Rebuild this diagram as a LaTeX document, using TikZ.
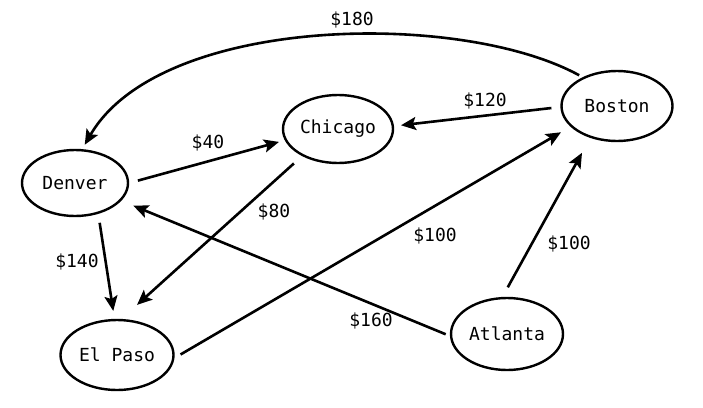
\documentclass[tikz,border=0pt]{standalone}
\usepackage{fontspec}
\setmonofont{DejaVu Sans Mono}
\usetikzlibrary{shapes.geometric,arrows.meta}
\begin{document}
\begin{tikzpicture}[x=1pt,y=-1pt,
  city/.style={ellipse,draw,line width=2.4pt,inner sep=0pt,font=\fontsize{18}{20}\selectfont\ttfamily},
  lbl/.style={inner sep=0pt,font=\fontsize{18}{20}\selectfont\ttfamily},
  edge/.style={line width=2.6pt,-{Stealth[length=15pt,width=13pt,inset=3pt]}}]
\useasboundingbox (0,0) rectangle (703,407);
\node[city,minimum width=106pt,minimum height=66pt] (den) at (75,183) {Denver};
\node[city,minimum width=110pt,minimum height=68pt] (chi) at (338,129) {Chicago};
\node[city,minimum width=111pt,minimum height=70pt] (bos) at (617,106) {Boston};
\node[city,minimum width=113pt,minimum height=70pt] (elp) at (117,355) {El Paso};
\node[city,minimum width=112pt,minimum height=72pt] (atl) at (507,334) {Atlanta};
% edges
\draw[edge,shorten <=4pt,shorten >=5pt] (bos.140) .. controls (460,10) and (160,15) .. (den.78);
\draw[edge,shorten <=9pt,shorten >=7pt] (bos.181) -- (chi.3);
\draw[edge,shorten <=9pt,shorten >=6pt] (den.0) -- (chi.192.6);
\draw[edge,shorten <=11pt,shorten >=21pt] (chi.217.5) -- (elp.83);
\draw[edge,shorten <=9pt,shorten >=8pt] (den.307) -- (elp.94.5);
\draw[edge,shorten <=7pt,shorten >=11pt] (elp.357) -- (bos.204.2);
\draw[edge,shorten <=11pt,shorten >=17pt] (atl.97) -- (bos.230.3);
\draw[edge,shorten <=4.5pt,shorten >=13pt] (atl.182.8) -- (den.339.7);
% labels
\node[lbl] (l180) at (352,20) {\$180};
\node[lbl] (l120) at (485,101) {\$120};
\node[lbl] (l40) at (208,143) {\$40};
\node[lbl] (l80) at (274,212) {\$80};
\node[lbl] (l140) at (77,262) {\$140};
\node[lbl] (l100a) at (435,236) {\$100};
\node[lbl] (l100b) at (569,244) {\$100};
\node[lbl] (l160) at (371,321) {\$160};
\end{tikzpicture}
\end{document}
